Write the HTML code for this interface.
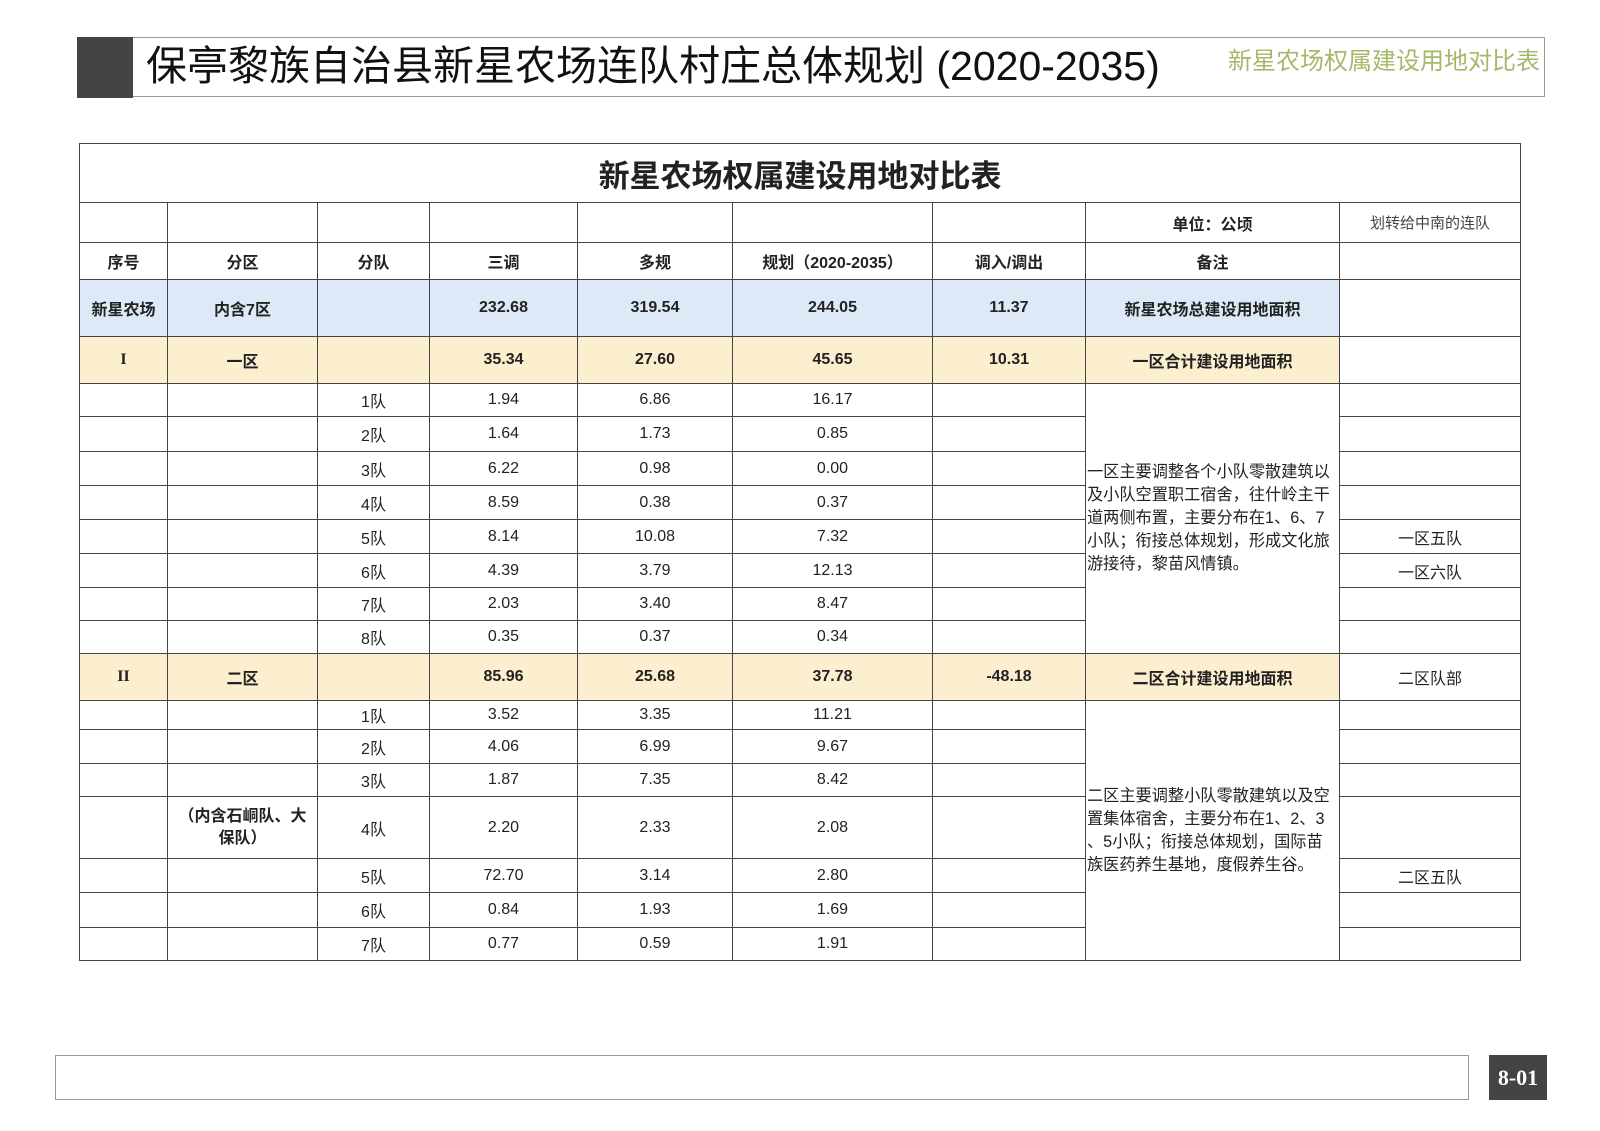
<!DOCTYPE html>
<html><head><meta charset="utf-8"><style>
body{margin:0;width:1600px;height:1131px;background:#fff;position:relative;overflow:hidden;font-family:"Liberation Sans","Noto Sans CJK SC",sans-serif;color:#222}
.hdr{position:absolute;left:77px;top:37px;width:1468px;height:60px;border:1px solid #999;box-sizing:border-box}
.blk{position:absolute;left:77px;top:37px;width:56px;height:61px;background:#444}
.ttl{position:absolute;left:146px;top:36px;height:60px;line-height:60px;font-size:41px;color:#111;font-family:"Liberation Sans","Noto Sans CJK SC",sans-serif}
.sub{position:absolute;left:1228px;top:44px;font-size:24px;color:#a6b86a;line-height:36px}
table{position:absolute;left:79px;top:143px;border-collapse:collapse;table-layout:fixed;width:1441px}
td{border:1px solid #444;text-align:center;font-size:16px;padding:0;vertical-align:middle;overflow:hidden}
.b td{font-weight:bold}
.blue td{background:#dde9f6}
.yel td{background:#fcefd0}
.note{text-align:left;vertical-align:middle;font-size:16.2px;line-height:23px;padding:0 0 0 1px;white-space:nowrap}
.foot{position:absolute;left:55px;top:1055px;width:1414px;height:45px;border:1px solid #999;box-sizing:border-box}
.pg{position:absolute;left:1489px;top:1055px;width:58px;height:45px;background:#444;color:#fff;font-weight:bold;font-size:22px;line-height:45px;text-align:center;font-family:"Liberation Serif",serif}
</style></head><body>
<div class="hdr"></div><div class="blk"></div>
<div class="ttl">保亭黎族自治县新星农场连队村庄总体规划 (2020-2035)</div>
<div class="sub">新星农场权属建设用地对比表</div>
<table>
<colgroup><col style="width:88px"><col style="width:150px"><col style="width:112px"><col style="width:148px"><col style="width:155px"><col style="width:200px"><col style="width:153px"><col style="width:254px"><col style="width:181px"></colgroup>
<tr style="height:59px"><td colspan="9" style="font-size:31px;font-weight:bold">新星农场权属建设用地对比表</td></tr>
<tr style="height:40px"><td></td><td></td><td></td><td></td><td></td><td></td><td></td><td style="font-weight:bold">单位：公顷</td><td style="font-size:15px;color:#444">划转给中南的连队</td></tr>
<tr class="b" style="height:37px"><td>序号</td><td>分区</td><td>分队</td><td>三调</td><td>多规</td><td>规划（2020-2035）</td><td>调入/调出</td><td>备注</td><td></td></tr>
<tr class="b blue" style="height:57px"><td>新星农场</td><td>内含7区</td><td></td><td>232.68</td><td>319.54</td><td>244.05</td><td>11.37</td><td>新星农场总建设用地面积</td><td style="background:#fff"></td></tr>
<tr class="b yel" style="height:47px"><td style="font-family:'Liberation Serif',serif">I</td><td>一区</td><td></td><td>35.34</td><td>27.60</td><td>45.65</td><td>10.31</td><td>一区合计建设用地面积</td><td style="background:#fff"></td></tr>
<tr style="height:33px"><td></td><td></td><td>1队</td><td>1.94</td><td>6.86</td><td>16.17</td><td></td><td rowspan="8" class="note">一区主要调整各个小队零散建筑以<br>及小队空置职工宿舍，往什岭主干<br>道两侧布置，主要分布在1、6、7<br>小队；衔接总体规划，形成文化旅<br>游接待，黎苗风情镇。</td><td></td></tr>
<tr style="height:35px"><td></td><td></td><td>2队</td><td>1.64</td><td>1.73</td><td>0.85</td><td></td><td></td></tr>
<tr style="height:34px"><td></td><td></td><td>3队</td><td>6.22</td><td>0.98</td><td>0.00</td><td></td><td></td></tr>
<tr style="height:34px"><td></td><td></td><td>4队</td><td>8.59</td><td>0.38</td><td>0.37</td><td></td><td></td></tr>
<tr style="height:34px"><td></td><td></td><td>5队</td><td>8.14</td><td>10.08</td><td>7.32</td><td></td><td>一区五队</td></tr>
<tr style="height:34px"><td></td><td></td><td>6队</td><td>4.39</td><td>3.79</td><td>12.13</td><td></td><td>一区六队</td></tr>
<tr style="height:33px"><td></td><td></td><td>7队</td><td>2.03</td><td>3.40</td><td>8.47</td><td></td><td></td></tr>
<tr style="height:33px"><td></td><td></td><td>8队</td><td>0.35</td><td>0.37</td><td>0.34</td><td></td><td></td></tr>
<tr class="b yel" style="height:47px"><td style="font-family:'Liberation Serif',serif">II</td><td>二区</td><td></td><td>85.96</td><td>25.68</td><td>37.78</td><td>-48.18</td><td>二区合计建设用地面积</td><td style="background:#fff;font-weight:normal">二区队部</td></tr>
<tr style="height:29px"><td></td><td></td><td>1队</td><td>3.52</td><td>3.35</td><td>11.21</td><td></td><td rowspan="7" class="note">二区主要调整小队零散建筑以及空<br>置集体宿舍，主要分布在1、2、3<br>、5小队；衔接总体规划，国际苗<br>族医药养生基地，度假养生谷。</td><td></td></tr>
<tr style="height:34px"><td></td><td></td><td>2队</td><td>4.06</td><td>6.99</td><td>9.67</td><td></td><td></td></tr>
<tr style="height:33px"><td></td><td></td><td>3队</td><td>1.87</td><td>7.35</td><td>8.42</td><td></td><td></td></tr>
<tr style="height:62px"><td></td><td style="font-weight:bold;line-height:22px">（内含石峒队、大<br>保队）</td><td>4队</td><td>2.20</td><td>2.33</td><td>2.08</td><td></td><td></td></tr>
<tr style="height:34px"><td></td><td></td><td>5队</td><td>72.70</td><td>3.14</td><td>2.80</td><td></td><td>二区五队</td></tr>
<tr style="height:35px"><td></td><td></td><td>6队</td><td>0.84</td><td>1.93</td><td>1.69</td><td></td><td></td></tr>
<tr style="height:33px"><td></td><td></td><td>7队</td><td>0.77</td><td>0.59</td><td>1.91</td><td></td><td></td></tr>
</table>
<div class="foot"></div>
<div class="pg">8-01</div>
</body></html>
